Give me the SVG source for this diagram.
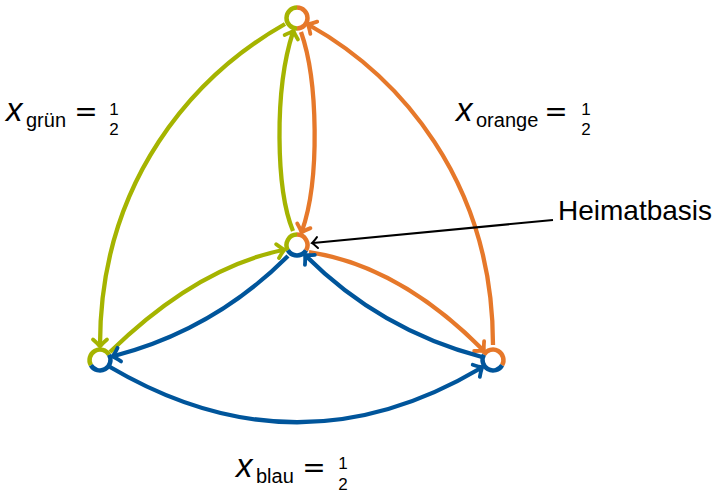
<svg xmlns="http://www.w3.org/2000/svg" width="718" height="494" viewBox="0 0 718 494">
<style>
.e{fill:none;stroke-width:4.3;stroke-linecap:butt}
.g{stroke:#A5B400}.o{stroke:#E6782A}.b{stroke:#00559B}
.ring{fill:none;stroke-width:4.5}
.bg{fill:#fff;stroke:none}
.t{font-family:"Liberation Sans",Arial,sans-serif;fill:#000}
.xi{font-style:italic;font-size:33px}
.sub{font-size:20px}
.eq{font-family:"DejaVu Sans",sans-serif;font-size:28px}
.fr{font-size:17px;text-anchor:middle}
</style>
<defs>
<marker id="mg" markerUnits="userSpaceOnUse" markerWidth="20" markerHeight="20" viewBox="-10 -10 20 20" refX="-1.5" refY="0" orient="auto" overflow="visible"><path d="M -7 -7 Q -2.5 -1.8 0 0 Q -2.5 1.8 -7 7" fill="none" stroke="#A5B400" stroke-width="3.8" stroke-linecap="round"/></marker>
<marker id="mo" markerUnits="userSpaceOnUse" markerWidth="20" markerHeight="20" viewBox="-10 -10 20 20" refX="-1.5" refY="0" orient="auto" overflow="visible"><path d="M -7 -7 Q -2.5 -1.8 0 0 Q -2.5 1.8 -7 7" fill="none" stroke="#E6782A" stroke-width="3.8" stroke-linecap="round"/></marker>
<marker id="mb" markerUnits="userSpaceOnUse" markerWidth="20" markerHeight="20" viewBox="-10 -10 20 20" refX="-1.5" refY="0" orient="auto" overflow="visible"><path d="M -7 -7 Q -2.5 -1.8 0 0 Q -2.5 1.8 -7 7" fill="none" stroke="#00559B" stroke-width="3.8" stroke-linecap="round"/></marker>
<marker id="mk" markerUnits="userSpaceOnUse" markerWidth="20" markerHeight="20" viewBox="-10 -10 20 20" refX="-1" refY="0" orient="auto" overflow="visible"><path d="M -5.5 -5.5 Q -1.5 -1 0 0 Q -1.5 1 -5.5 5.5" fill="none" stroke="#000" stroke-width="2" stroke-linecap="round"/></marker>
</defs>
<g id="connectors">
<path class="e g" d="M 285 24 C 195 75 100 180 100 345" marker-end="url(#mg)"/>
<path class="e g" d="M 293 231 C 276 190 274 90 293 32" marker-end="url(#mg)"/>
<path class="e g" d="M 110 352 Q 196 268 283 250" marker-end="url(#mg)"/>
<path class="e o" d="M 301 32 C 318 80 320 180 302 231" marker-end="url(#mo)"/>
<path class="e o" d="M 493 345 C 493 180 398 75 309 25" marker-end="url(#mo)"/>
<path class="e o" d="M 309 252 Q 400 266 483 350" marker-end="url(#mo)"/>
<path class="e b" d="M 288 256 Q 214 330 114 356" marker-end="url(#mb)"/>
<path class="e b" d="M 482 357 Q 380 330 306 256" marker-end="url(#mb)"/>
<path class="e b" d="M 110 367 Q 297 477 481 368" marker-end="url(#mb)"/>
<path d="M 553 220 L 313 243" fill="none" stroke="#000" stroke-width="2" marker-end="url(#mk)"/>
</g>
<g id="node-top">
<circle class="bg" cx="297" cy="18" r="10.5"/>
<path class="ring g" d="M 297 7.5 A 10.5 10.5 0 0 0 297 28.5"/>
<path class="ring o" d="M 297 28.5 A 10.5 10.5 0 0 0 297 7.5"/>
</g>
<g id="node-center">
<circle class="bg" cx="297" cy="245" r="10.5"/>
<path class="ring g" d="M 297 234.5 A 10.5 10.5 0 0 0 287.907 250.25"/>
<path class="ring b" d="M 287.907 250.25 A 10.5 10.5 0 0 0 306.093 250.25"/>
<path class="ring o" d="M 306.093 250.25 A 10.5 10.5 0 0 0 297 234.5"/>
</g>
<g id="node-left">
<circle class="bg" cx="100" cy="360" r="10.5"/>
<path class="ring g" d="M 109.093 354.75 A 10.5 10.5 0 0 0 90.907 365.25"/>
<path class="ring b" d="M 90.907 365.25 A 10.5 10.5 0 0 0 109.093 354.75"/>
</g>
<g id="node-right">
<circle class="bg" cx="493" cy="360" r="10.5"/>
<path class="ring o" d="M 502.093 365.25 A 10.5 10.5 0 0 0 483.907 354.75"/>
<path class="ring b" d="M 483.907 354.75 A 10.5 10.5 0 0 0 502.093 365.25"/>
</g>
<g id="label-gruen">
<text class="t xi" x="6" y="121">x</text>
<text class="t sub" x="26" y="127">grün</text>
<text class="eq" x="86" y="121" text-anchor="middle">=</text>
<text class="t fr" x="114" y="115">1</text>
<text class="t fr" x="114" y="135">2</text>
</g>
<g id="label-orange">
<text class="t xi" x="456" y="121">x</text>
<text class="t sub" x="476" y="127">orange</text>
<text class="eq" x="556" y="121" text-anchor="middle">=</text>
<text class="t fr" x="586" y="115">1</text>
<text class="t fr" x="586" y="135">2</text>
</g>
<g id="label-blau">
<text class="t xi" x="236" y="477">x</text>
<text class="t sub" x="256" y="483">blau</text>
<text class="eq" x="314" y="477" text-anchor="middle">=</text>
<text class="t fr" x="343" y="469">1</text>
<text class="t fr" x="343" y="489.5">2</text>
</g>
<g id="label-heimatbasis">
<text class="t" x="558" y="220" font-size="28">Heimatbasis</text>
</g>
</svg>
